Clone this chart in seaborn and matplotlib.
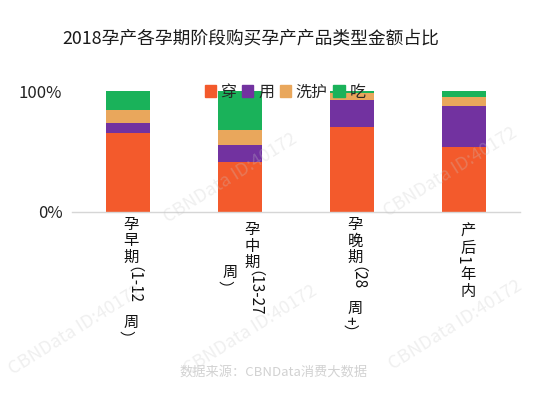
import matplotlib
matplotlib.use("Agg")
import matplotlib.pyplot as plt
from matplotlib.patches import Patch
import pandas as pd
import seaborn as sns

# data (shares of each stage, bottom to top)
stages = ["孕早期（1-12周）", "孕中期（13-27周）", "孕晚期（28周+）", "产后1年内"]
categories = ["穿", "用", "洗护", "吃"]
share_chuan = [0.653, 0.413, 0.702, 0.537]
share_yong = [0.083, 0.140, 0.223, 0.339]
share_xihu = [0.107, 0.124, 0.061, 0.074]
share_chi = [0.157, 0.323, 0.014, 0.050]
colors = ["#F35A2C", "#7232A0", "#E9A75C", "#1AB25A"]

# vertical tick labels, split in columns like the reference wraps them
label_columns = [
    [["孕", "早", "期", "（1-12", "周", "）"]],
    [["孕", "中", "期", "（13-27"], ["周", "）"]],
    [["孕", "晚", "期", "（28", "周", "+）"]],
    [["产", "后", "1", "年", "内"]],
]

title = "2018孕产各孕期阶段购买孕产产品类型金额占比"
source = "数据来源：CBNData消费大数据"
watermark = "CBNData ID:40172"

sns.set_theme(style="white")
plt.rcParams["font.family"] = ["Noto Sans CJK SC", "DejaVu Sans"]

df = pd.DataFrame({
    "stage": stages * 4,
    "cat": [c for c in categories for _ in stages],
    "share": share_chuan + share_yong + share_xihu + share_chi,
})
df["cum"] = df.groupby("stage", sort=False)["share"].cumsum()

fig = plt.figure(figsize=(5.52, 3.96), dpi=100)
W, H = 552, 396
ax = fig.add_axes([72 / W, (H - 212) / H, 448 / W, 121 / H])

# stacked bars: draw cumulative totals from the top category down
for cat, col in reversed(list(zip(categories, colors))):
    sub = df[df["cat"] == cat]
    sns.barplot(data=sub, x="stage", y="cum", order=stages, color=col,
                saturation=1, width=0.4, linewidth=0, ax=ax, zorder=2)

ax.set_ylim(0, 1)
ax.set_yticks([0, 1])
ax.set_yticklabels(["0%", "100%"], fontsize=12, color="#222222")
ax.tick_params(axis="y", length=0, pad=7)
ax.set_xticks(range(len(stages)))
ax.set_xticklabels([])
ax.tick_params(axis="x", length=0)
ax.set_xlabel("")
ax.set_ylabel("")
for s in ["top", "left", "right"]:
    ax.spines[s].set_visible(False)
ax.spines["bottom"].set_color("#d6d6d6")
ax.spines["bottom"].set_linewidth(1)

# vertical labels: CJK upright, latin/brackets rotated
renderer = fig.canvas.get_renderer()
fs = 11
pitch = 16.5
rot_dx = -6
col_dx = [[3], [12, -10], [3], [4]]
col_top = [[4], [9, 52], [4], [11]]
for i, cols in enumerate(label_columns):
    for j, parts in enumerate(cols):
        y = -col_top[i][j]
        for p in parts:
            upright = len(p) == 1 and ord(p) > 0x3000 and p not in "（）"
            dx = col_dx[i][j] + (0 if upright else rot_dx)
            t = ax.annotate(p, xy=(i, 0), xycoords=("data", "axes fraction"),
                            xytext=(dx, y), textcoords="offset pixels",
                            ha="center", va="top", fontsize=fs, color="#111111",
                            rotation=0 if upright else -90, annotation_clip=False)
            if upright:
                y -= pitch
            else:
                y -= t.get_window_extent(renderer).height + 2

leg = ax.legend(handles=[Patch(color=c, label=l) for l, c in zip(categories, colors)],
                loc="center", bbox_to_anchor=(285 / W, (H - 92) / H),
                bbox_transform=fig.transFigure, ncol=4, frameon=False,
                fontsize=11.5, handlelength=0.7, handleheight=0.7,
                handletextpad=0.3, columnspacing=0.35, borderpad=0)
leg.set_zorder(5)

fig.text(251 / W, 1 - 38 / H, title, ha="center", va="center",
         fontsize=12.8, color="#1a1a1a")
fig.text(274 / W, 1 - 372 / H, source, ha="center", va="center",
         fontsize=9.5, color="#d2d2d2")

# faint diagonal watermarks
for wx, wy in [(230, 178), (450, 172), (250, 330), (455, 325), (75, 330)]:
    fig.text(wx / W, 1 - wy / H, watermark, ha="center", va="center", rotation=32,
             fontsize=13, color="#c8c8c8", alpha=0.28, zorder=0)

fig.savefig("out.png", dpi=100)
